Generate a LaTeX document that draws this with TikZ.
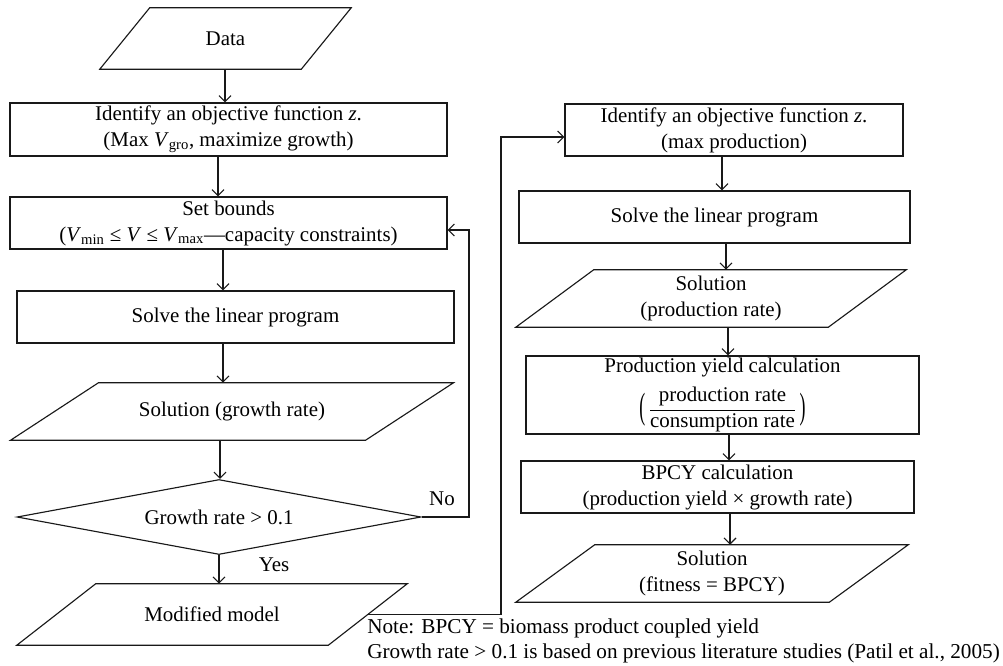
\documentclass[tikz,border=0pt]{standalone}
\usepackage{fontspec}
\usepackage{graphicx}
\setmainfont{Liberation Serif}
\usetikzlibrary{arrows.meta,shapes.geometric,calc}
\newcommand\tallparen[1]{\vcenter{\hbox{\scalebox{0.85}[1.75]{#1}}}}
\begin{document}
\begin{tikzpicture}[x=0.75pt,y=-0.75pt,
  ln/.style={draw=black!90, line width=0.85pt},
  arr/.style={ln, -{Straight Barb[length=4.5pt,width=9pt]}},
  proc/.style 2 args={rectangle, ln, minimum width=#1*0.75pt, minimum height=#2*0.75pt, inner sep=0pt, align=center},
  io/.style 2 args={rectangle, minimum width=#1*0.75pt, minimum height=#2*0.75pt, inner sep=0pt, align=center},
  lbl/.style={inner sep=0pt},
  font=\fontsize{15.7}{19.5}\selectfont]
\useasboundingbox (0,0) rectangle (1003,665);

% left column
\node[io={201}{61}] (data) at (225.5,38.5) {Data};
\node[proc={437}{53}] (idL) at (228.5,129.5) {Identify an objective function \textit{z}.\\(Max \textit{V}\textsubscript{gro}, maximize growth)};
\node[proc={437}{52}] (setL) at (228.5,223) {Set bounds\\(\textit{V}\textsubscript{min} ≤ \textit{V} ≤ \textit{V}\textsubscript{max}—capacity constraints)};
\node[proc={437}{52}] (solveL) at (235.5,317) {Solve the linear program};
\node[io={354.5}{57}] (solL) at (232,411.5) {Solution (growth rate)};
\node[diamond, ln, shape aspect=5.4, minimum width=404*0.75pt, minimum height=75*0.75pt, inner sep=0pt] (dia) at (219,517) {Growth rate > 0.1};
\node[io={311}{61}] (mod) at (212,614.5) {Modified model};

% right column
\node[proc={338}{52}] (idR) at (734,130) {Identify an objective function \textit{z}.\\(max production)};
\node[proc={391}{52}] (solveR) at (714.5,217) {Solve the linear program};
\node[io={312}{57}] (solR) at (711,298.5) {Solution\\(production rate)};
\node[proc={393}{78}] (prod) at (722.5,395) {Production yield calculation\\[7pt]$\tallparen{(}\,\displaystyle\frac{\mbox{production rate}}{\mbox{consumption rate}}\,\tallparen{)}$};
\node[proc={393}{52}] (bpcy) at (717.5,487) {BPCY calculation\\(production yield × growth rate)};
\node[io={313}{57}] (fit) at (712,573.5) {Solution\\(fitness = BPCY)};

% parallelogram outlines
\foreach \n/\s in {data/25, solL/44, mod/39.5, solR/39, fit/39.5} {
  \draw[ln] ($(\n.north west)+(\s,0)$) -- ($(\n.north east)+(\s,0)$) -- ($(\n.south east)-(\s,0)$) -- ($(\n.south west)-(\s,0)$) -- cycle;
}

% column coordinates
\coordinate (c1) at (225,0);
\coordinate (c2) at (218,0);
\coordinate (c3) at (223,0);
\coordinate (c4) at (220,0);
\coordinate (r1) at (722,0);
\coordinate (r2) at (726,0);
\coordinate (r3) at (728,0);
\coordinate (r4) at (729,0);
\coordinate (r5) at (730,0);

\draw[arr] (data.south -| c1) -- (idL.north -| c1);
\draw[arr] (idL.south -| c2) -- (setL.north -| c2);
\draw[arr] (setL.south -| c3) -- (solveL.north -| c3);
\draw[arr] (solveL.south -| c3) -- (solL.north -| c3);
\draw[arr] (solL.south -| c4) -- (dia.north -| c4);
\draw[arr] (dia.south) -- (mod.north -| dia.south);

\draw[arr] (idR.south -| r1) -- (solveR.north -| r1);
\draw[arr] (solveR.south -| r2) -- (solR.north -| r2);
\draw[arr] (solR.south -| r3) -- (prod.north -| r3);
\draw[arr] (prod.south -| r4) -- (bpcy.north -| r4);
\draw[arr] (bpcy.south -| r5) -- (fit.north -| r5);

% loops
\coordinate (loopR) at (469,230);
\draw[arr] (dia.east) -- (dia.east -| loopR) -- (loopR) -- (setL.east |- loopR);
\coordinate (loopL) at (501,137);
\draw[arr] (mod.east) -- (mod.east -| loopL) -- (loopL) -- (idR.west |- loopL);

\node[lbl] (no) at (442,499) {No};
\node[lbl] (yes) at (274,565) {Yes};

\node[lbl, anchor=base west, font=\fontsize{15.9}{19}\selectfont] (note1) at (367,633) {Note: BPCY = biomass product coupled yield};
\node[lbl, anchor=base west, font=\fontsize{15.9}{19}\selectfont] (note2) at (367,658) {Growth rate > 0.1 is based on previous literature studies (Patil et al., 2005)};
\end{tikzpicture}
\end{document}
